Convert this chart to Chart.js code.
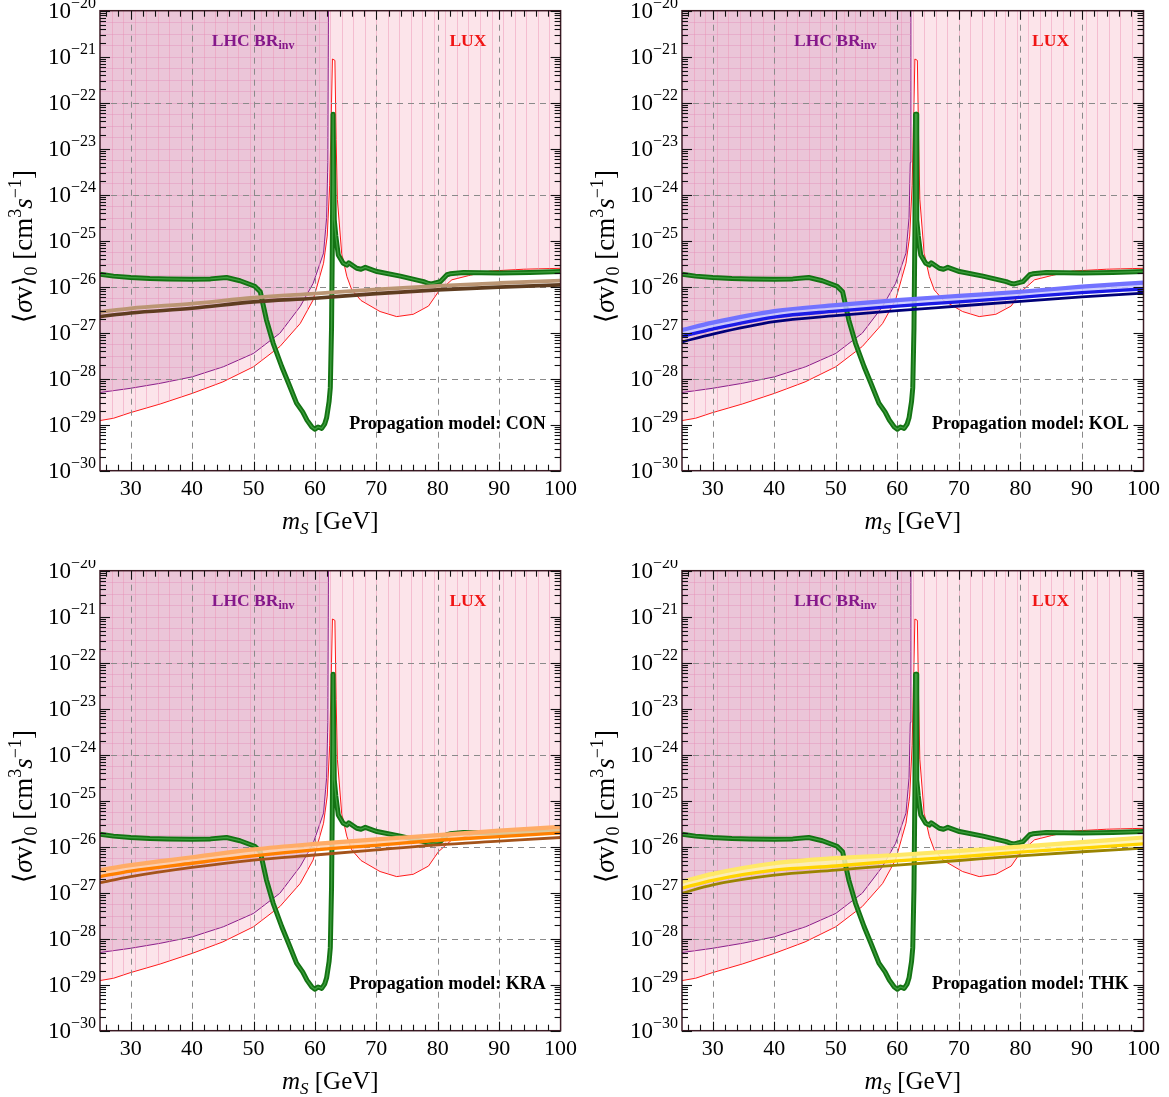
<!DOCTYPE html>
<html>
<head>
<meta charset="utf-8">
<title>Indirect detection limits for scalar singlet dark matter</title>
<script src="https://cdn.jsdelivr.net/npm/chart.js@4.4.1/dist/chart.umd.min.js"></script>
<style>
  html, body { margin: 0; padding: 0; background: #ffffff; }
  #wrap { position: relative; width: 1169px; height: 1097px; overflow: hidden; }
  .panel { position: absolute; }
</style>
</head>
<body>
<div id="wrap">
  <div class="panel" style="left:0;top:0;width:580px;height:560px"><canvas id="c0"></canvas></div>
  <div class="panel" style="left:580px;top:0;width:589px;height:560px"><canvas id="c1"></canvas></div>
  <div class="panel" style="left:0;top:560px;width:580px;height:537px"><canvas id="c2"></canvas></div>
  <div class="panel" style="left:580px;top:560px;width:589px;height:537px"><canvas id="c3"></canvas></div>
</div>
<script>
// ---- axis definitions ----
const massMin = 25, massMax = 100;
const xTickLabels = [30, 40, 50, 60, 70, 80, 90, 100];
const xGridValues = [30, 40, 50, 60, 70, 80, 90];
const yExponents = [-30, -29, -28, -27, -26, -25, -24, -23, -22, -21, -20];
const yGridExponents = [-28, -26, -24, -22];

// ---- LUX direct-detection bound (log10 <σv>) ----
const luxMass = [25, 27.2, 29.9, 34.8, 40, 45, 50, 54.3, 57.6, 59.7, 61.4, 62.0, 62.4, 62.7, 62.85,
                 63.25, 63.45, 63.65, 64.35, 65.2, 66.0, 67.5, 70.6, 73.3, 76, 78.5, 80.1, 82.3, 85.3, 88.5, 94, 100];
const luxLog  = [-28.91, -28.86, -28.74, -28.55, -28.32, -28.07, -27.74, -27.30, -26.80, -26.29, -25.49, -24.9, -23.8, -22.0, -21.05,
                 -21.08, -22.8, -24.1, -25.27, -25.78, -26.07, -26.30, -26.54, -26.65, -26.60, -26.42, -26.11, -25.85, -25.75, -25.66, -25.62, -25.60];

// ---- LHC invisible Higgs width bound ----
const lhcMass = [25, 29.9, 34.8, 40, 45.1, 50, 54.3, 57.6, 59.7, 61.4, 61.9, 62.1, 62.2];
const lhcLog  = [-28.30, -28.21, -28.10, -27.96, -27.74, -27.45, -27.01, -26.43, -25.93, -25.27, -24.5, -23.3, -20];

// ---- relic-density line ----
const relicMass = [25, 27.2, 30, 33.1, 36, 40, 43, 45.6, 47.8, 50.2, 51.1, 52.1, 53.2, 54.6, 55.7, 57.0, 58.0, 58.7, 59.5,
                   60.0, 60.5, 61.1, 61.6, 61.9, 62.3, 62.5, 62.7, 62.85, 62.95, 63.05, 63.15, 63.4, 63.8, 64.6, 65.2, 65.5,
                   66.8, 67.5, 68.2, 70.1, 73.9, 77.7, 78.5, 79.0, 80.4, 81.5, 82.0, 84.2, 90, 95, 100];
const relicLog  = [-25.73, -25.77, -25.80, -25.82, -25.83, -25.84, -25.83, -25.80, -25.87, -25.99, -26.11, -26.72, -27.23, -27.74, -28.10, -28.53, -28.72, -28.90, -29.05,
                   -29.10, -29.05, -29.08, -28.98, -28.85, -28.5, -28.2, -26.9, -24.8, -22.25, -22.25, -24.55, -24.9, -25.31, -25.49, -25.53, -25.48,
                   -25.60, -25.62, -25.58, -25.67, -25.77, -25.89, -25.93, -25.94, -25.89, -25.74, -25.72, -25.69, -25.70, -25.69, -25.67];

// ---- antiproton limits per propagation model ----
const bandMass = [25, 30, 40, 50, 60, 70, 80, 90, 100];
const conUpper = [-26.55, -26.47, -26.37, -26.24, -26.15, -26.06, -25.98, -25.92, -25.87];
const conLower = [-26.65, -26.57, -26.47, -26.33, -26.25, -26.15, -26.07, -26.01, -25.96];
const kolUpper = [-26.94, -26.78, -26.53, -26.40, -26.29, -26.20, -26.11, -26.00, -25.91];
const kolMiddle = [-27.08, -26.92, -26.66, -26.53, -26.42, -26.33, -26.23, -26.13, -26.05];
const kolLower = [-27.20, -27.03, -26.76, -26.63, -26.52, -26.42, -26.32, -26.22, -26.14];
const kraUpper = [-26.51, -26.40, -26.23, -26.06, -25.94, -25.84, -25.75, -25.65, -25.57];
const kraMiddle = [-26.65, -26.53, -26.36, -26.20, -26.07, -25.97, -25.86, -25.78, -25.70];
const kraLower = [-26.78, -26.65, -26.45, -26.29, -26.18, -26.07, -25.96, -25.88, -25.80];
const thkUpper = [-26.76, -26.59, -26.36, -26.25, -26.18, -26.09, -26.00, -25.90, -25.80];
const thkMiddle = [-26.90, -26.73, -26.51, -26.42, -26.31, -26.22, -26.12, -26.03, -25.94];
const thkLower = [-27.01, -26.83, -26.62, -26.51, -26.40, -26.30, -26.20, -26.11, -26.03];

const modelNames = ['CON', 'KOL', 'KRA', 'THK'];

const SERIF = '"Liberation Serif", "Times New Roman", serif';

function pts(mass, logs) {
  return mass.map((m, i) => ({ x: m, y: Math.pow(10, logs[i]) }));
}

function line(id, mass, logs, color, width, order, extra) {
  return Object.assign({
    id, data: pts(mass, logs), borderColor: color, borderWidth: width,
    pointRadius: 0, tension: 0, fill: false, order, borderJoinStyle: 'round', borderCapStyle: 'butt'
  }, extra || {});
}

// smooth curves for the propagation-model limits
const smooth = { cubicInterpolationMode: 'monotone' };

function bandDatasets(model) {
  if (model === 'CON') {
    return [
      line('conU', bandMass, conUpper, '#bb9674', 3.8, 4, smooth),
      line('conL', bandMass, conLower, '#5f3d20', 3.6, 3, smooth)
    ];
  }
  const spec = {
    KOL: [kolUpper, kolMiddle, kolLower, '#7272ff', 'rgba(200,200,255,0.85)', '#1c1ce6', '#000078'],
    KRA: [kraUpper, kraMiddle, kraLower, '#ffac66', 'rgba(255,208,170,0.85)', '#ff8000', '#a4531a'],
    THK: [thkUpper, thkMiddle, thkLower, '#ffe866', 'rgba(255,243,176,0.85)', '#ffd400', '#9a8400']
  }[model];
  return [
    line('bandU', bandMass, spec[0], spec[3], 4.2, 5, Object.assign({ fill: { target: 'bandM' }, backgroundColor: spec[4] }, smooth)),
    line('bandM', bandMass, spec[1], spec[5], 3.3, 4, smooth),
    line('bandL', bandMass, spec[2], spec[6], 2.8, 3, smooth)
  ];
}

function buildDatasets(model) {
  const list = [
    line('lux', luxMass, luxLog, '#ff1a1a', 1, 100, { fill: 'end', backgroundColor: '#fce4ea' }),
    line('lhc', lhcMass, lhcLog, '#8a1d8a', 1, 90, { fill: 'end', backgroundColor: 'rgba(205,140,185,0.36)' }),
    line('relic', relicMass, relicLog, '#137313', 5, 20),
    line('relicCore', relicMass, relicLog, '#3e9e3e', 1.3, 19)
  ].concat(bandDatasets(model));
  // resolve named fill targets to dataset indices
  list.forEach(d => {
    if (d.fill && typeof d.fill === 'object') {
      d.fill = { target: list.findIndex(o => o.id === d.fill.target) };
    }
  });
  return list;
}

function metaPoints(chart, id) {
  const idx = chart.data.datasets.findIndex(d => d.id === id);
  return chart.getDatasetMeta(idx).data;
}

// draw a sequence of text runs, each with its own font and vertical shift
function drawRuns(ctx, runs, x, y, align) {
  let total = 0;
  runs.forEach(r => { ctx.font = r.font; r.w = ctx.measureText(r.t).width; total += r.w; });
  let cx = align === 'right' ? x - total : align === 'center' ? x - total / 2 : x;
  ctx.textAlign = 'left';
  ctx.textBaseline = 'alphabetic';
  runs.forEach(r => { ctx.font = r.font; ctx.fillText(r.t, cx, y + (r.dy || 0)); cx += r.w; });
}

const decorPlugin = {
  id: 'panelDecor',
  afterDatasetDraw(chart, args) {
    if (chart.data.datasets[args.index].id !== 'lhc') return;
    const { ctx, chartArea: a, scales: { x, y } } = chart;

    // mesh of the LUX excluded region
    const lux = metaPoints(chart, 'lux');
    ctx.save();
    ctx.beginPath();
    ctx.rect(a.left, a.top, a.right - a.left, a.bottom - a.top);
    ctx.clip();
    ctx.beginPath();
    ctx.moveTo(a.left, a.top);
    lux.forEach(p => ctx.lineTo(p.x, p.y));
    ctx.lineTo(a.right, a.top);
    ctx.closePath();
    ctx.clip();
    ctx.strokeStyle = 'rgba(238,150,182,0.5)';
    ctx.lineWidth = 1;
    for (let k = 1; k < 40; k++) {
      const px = Math.round(x.getPixelForValue(massMin + k * (massMax - massMin) / 40)) + 0.5;
      ctx.beginPath(); ctx.moveTo(px, a.top); ctx.lineTo(px, a.bottom); ctx.stroke();
    }
    ctx.restore();

    // mesh of the LHC excluded region
    const lhc = metaPoints(chart, 'lhc');
    ctx.save();
    ctx.beginPath();
    ctx.moveTo(a.left, a.top);
    lhc.forEach(p => ctx.lineTo(p.x, p.y));
    ctx.lineTo(lhc[lhc.length - 1].x, a.top);
    ctx.closePath();
    ctx.clip();
    ctx.strokeStyle = 'rgba(225,140,185,0.40)';
    ctx.lineWidth = 1;
    for (let k = 1; k < 40; k++) {
      const py = Math.round(y.getPixelForValue(Math.pow(10, -20 - k * 0.25))) + 0.5;
      ctx.beginPath(); ctx.moveTo(a.left, py); ctx.lineTo(a.right, py); ctx.stroke();
    }
    ctx.restore();

    // dashed grid
    ctx.save();
    ctx.strokeStyle = '#8a8a8a';
    ctx.lineWidth = 1;
    ctx.setLineDash([6, 5]);
    xGridValues.forEach(v => {
      const px = Math.round(x.getPixelForValue(v)) + 0.5;
      ctx.beginPath(); ctx.moveTo(px, a.bottom); ctx.lineTo(px, a.top); ctx.stroke();
    });
    yGridExponents.forEach(e => {
      const py = Math.round(y.getPixelForValue(Math.pow(10, e))) + 0.5;
      ctx.beginPath(); ctx.moveTo(a.left, py); ctx.lineTo(a.right, py); ctx.stroke();
    });
    ctx.restore();
  },

  afterDraw(chart) {
    const { ctx, chartArea: a, scales: { x, y } } = chart;
    const model = chart.options.plugins.panelDecor.model;

    // in-plot labels
    ctx.save();
    ctx.fillStyle = '#85188a';
    drawRuns(ctx, [
      { t: 'LHC BR', font: 'bold 17.5px ' + SERIF },
      { t: 'inv', font: 'bold 12px ' + SERIF, dy: 3 }
    ], x.getPixelForValue(43.2), y.getPixelForValue(Math.pow(10, -20.76)), 'left');
    ctx.fillStyle = '#f01414';
    drawRuns(ctx, [{ t: 'LUX', font: 'bold 17.5px ' + SERIF }],
      x.getPixelForValue(84.9), y.getPixelForValue(Math.pow(10, -20.76)), 'center');
    ctx.fillStyle = '#000000';
    drawRuns(ctx, [{ t: 'Propagation model: ' + model, font: 'bold 18px ' + SERIF }],
      x.getPixelForValue(97.6), y.getPixelForValue(Math.pow(10, -29.1)), 'right');
    ctx.restore();

    // frame
    ctx.save();
    ctx.strokeStyle = '#3c1a24';
    ctx.lineWidth = 1.5;
    ctx.strokeRect(a.left, a.top, a.right - a.left, a.bottom - a.top);

    // inward ticks
    ctx.strokeStyle = '#111111';
    ctx.lineWidth = 1.1;
    const tick = (x0, y0, x1, y1) => { ctx.beginPath(); ctx.moveTo(x0, y0); ctx.lineTo(x1, y1); ctx.stroke(); };
    for (let m = 26; m < massMax; m += 2) {
      const px = Math.round(x.getPixelForValue(m)) + 0.5;
      const len = m % 10 === 0 ? 9 : 6;
      tick(px, a.bottom, px, a.bottom - len);
      tick(px, a.top, px, a.top + len);
    }
    yExponents.forEach(e => {
      const py = Math.round(y.getPixelForValue(Math.pow(10, e))) + 0.5;
      tick(a.left, py, a.left + 10, py);
      tick(a.right, py, a.right - 10, py);
      if (e < -20) {
        for (let k = 2; k <= 9; k++) {
          const pm = Math.round(y.getPixelForValue(k * Math.pow(10, e))) + 0.5;
          tick(a.left, pm, a.left + 6, pm);
          tick(a.right, pm, a.right - 6, pm);
        }
      }
    });
    ctx.restore();

    // tick labels
    ctx.save();
    ctx.fillStyle = '#000000';
    yExponents.forEach(e => {
      const py = y.getPixelForValue(Math.pow(10, e));
      const sup = '\u2212' + Math.abs(e);
      drawRuns(ctx, [
        { t: '10', font: '23px ' + SERIF, dy: 7 },
        { t: sup, font: '16px ' + SERIF, dy: -3 }
      ], a.left - 4, py, 'right');
    });
    ctx.font = '22px ' + SERIF;
    ctx.textAlign = 'center';
    ctx.textBaseline = 'alphabetic';
    xTickLabels.forEach(v => {
      ctx.fillText(String(v), x.getPixelForValue(v), a.bottom + 24);
    });

    // axis titles
    drawRuns(ctx, [
      { t: 'm', font: 'italic 25px ' + SERIF },
      { t: 'S', font: 'italic 17px ' + SERIF, dy: 5 },
      { t: ' [GeV]', font: '25px ' + SERIF }
    ], (a.left + a.right) / 2, a.bottom + 58, 'center');

    ctx.translate(a.left - 68, (a.top + a.bottom) / 2 + 6);
    ctx.rotate(-Math.PI / 2);
    drawRuns(ctx, [
      { t: '\u27E8', font: '27px "DejaVu Serif", ' + SERIF },
      { t: '\u03C3', font: 'italic 27px ' + SERIF },
      { t: 'v', font: '27px ' + SERIF },
      { t: '\u27E9', font: '27px "DejaVu Serif", ' + SERIF },
      { t: '0', font: '18px ' + SERIF, dy: 5 },
      { t: ' [cm', font: '27px ' + SERIF },
      { t: '3', font: '18px ' + SERIF, dy: -11 },
      { t: 's', font: 'italic 27px ' + SERIF },
      { t: '\u22121', font: '18px ' + SERIF, dy: -11 },
      { t: ']', font: '27px ' + SERIF }
    ], 0, 0, 'center');
    ctx.restore();
  }
};

const panelPadding = [
  { left: 100, right: 19.4, top: 10.7, bottom: 89.3 },
  { left: 102, right: 25.5, top: 10.7, bottom: 89.3 },
  { left: 100, right: 19.4, top: 10.7, bottom: 66.3 },
  { left: 102, right: 25.5, top: 10.7, bottom: 66.3 }
];

modelNames.forEach((model, i) => {
  new Chart(document.getElementById('c' + i), {
    type: 'line',
    data: { datasets: buildDatasets(model) },
    options: {
      responsive: true,
      maintainAspectRatio: false,
      devicePixelRatio: 1,
      animation: false,
      events: [],
      layout: { padding: panelPadding[i] },
      scales: {
        x: { type: 'linear', min: massMin, max: massMax, display: false },
        y: { type: 'logarithmic', min: 1e-30, max: 1e-20, display: false }
      },
      plugins: {
        legend: { display: false },
        tooltip: { enabled: false },
        filler: { propagate: false },
        panelDecor: { model }
      }
    },
    plugins: [decorPlugin]
  });
});
</script>
</body>
</html>
